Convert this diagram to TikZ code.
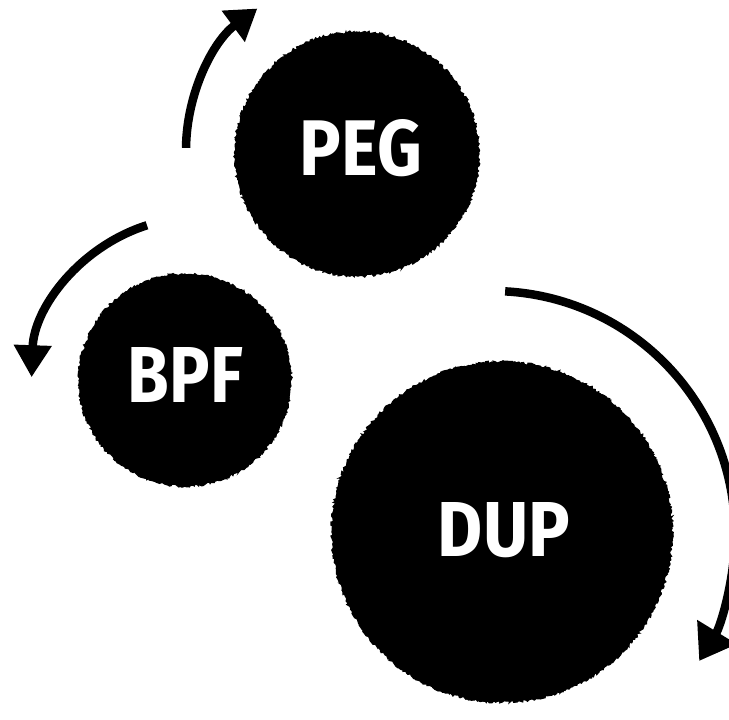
\documentclass[tikz,border=0pt]{standalone}
\usepackage{fontspec}
\setmainfont{Fira Sans}
\usetikzlibrary{arrows.meta,decorations.pathmorphing}
\begin{document}
\pgfmathsetseed{7}
\begin{tikzpicture}[x=1pt,y=1pt,
  blob/.style={circle, fill=black, draw=black, line width=1.2pt, inner sep=0pt,
    decorate, decoration={random steps, segment length=1.6pt, amplitude=1.3pt},
    text=white, font=\bfseries},
  arr/.style={line width=8.5pt, draw=black}
]
\useasboundingbox (0,0) rectangle (729,-720);
% circles
\node[blob, minimum size=244pt] (peg) at (357,-154) {};
\node[blob, minimum size=212pt] (bpf) at (185,-380) {};
\node[blob, minimum size=340pt] (dup) at (502,-532) {};
% labels
\node[text=white, inner sep=0pt] (pegt) at (361,-148) {\resizebox{122pt}{56pt}{\bfseries PEG}};
\node[text=white, inner sep=0pt] (bpft) at (185.5,-374.5) {\resizebox{115pt}{55pt}{\bfseries BPF}};
\node[text=white, inner sep=0pt] (dupt) at (504,-530) {\resizebox{132pt}{54pt}{\bfseries DUP}};
% arrows
\coordinate (c1) at (362,-150);
\coordinate (c2) at (197,-383);
\coordinate (c3) at (492,-534);
\draw[arr, -{Triangle[width=37pt,length=30pt]}]
  ([shift={(179.3:176)}]c1) arc[start angle=179.3, end angle=126.5, radius=176];
\draw[arr, -{Triangle[width=36pt,length=32pt]}]
  ([shift={(107.6:165.5)}]c2) arc[start angle=107.6, end angle=178, radius=165.5];
\draw[arr, -{Triangle[width=44pt,length=34pt]}]
  ([shift={(86.9:243)}]c3) arc[start angle=86.9, end angle=-31.5, radius=243];
\end{tikzpicture}
\end{document}
